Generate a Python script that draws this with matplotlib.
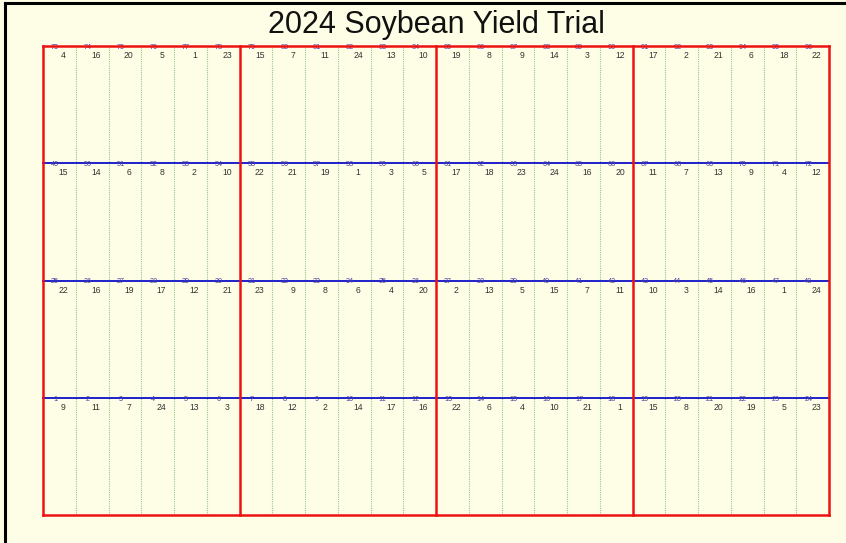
import matplotlib
matplotlib.use("Agg")
import matplotlib.pyplot as plt
from matplotlib.lines import Line2D

plt.rcParams["font.family"] = ["Liberation Sans", "DejaVu Sans"]

title = "2024 Soybean Yield Trial"
n_rows = 4
n_blocks = 4
plots_per_block = 6

# plot numbers per row (row 1 at bottom)
plot_numbers = {
    1: list(range(1, 25)),
    2: list(range(25, 49)),
    3: list(range(49, 73)),
    4: list(range(73, 97)),
}
# treatment numbers per row (row 1 at bottom)
treatments = {
    4: [4, 16, 20, 5, 1, 23, 15, 7, 11, 24, 13, 10, 19, 8, 9, 14, 3, 12, 17, 2, 21, 6, 18, 22],
    3: [15, 14, 6, 8, 2, 10, 22, 21, 19, 1, 3, 5, 17, 18, 23, 24, 16, 20, 11, 7, 13, 9, 4, 12],
    2: [22, 16, 19, 17, 12, 21, 23, 9, 8, 6, 4, 20, 2, 13, 5, 15, 7, 11, 10, 3, 14, 16, 1, 24],
    1: [9, 11, 7, 24, 13, 3, 18, 12, 2, 14, 17, 16, 22, 6, 4, 10, 21, 1, 15, 8, 20, 19, 5, 23],
}

W, H = 846, 543
bg = "#FEFEE6"
fig = plt.figure(figsize=(W / 100, H / 100), dpi=100, facecolor=bg)

# figure frame (black, left and top)
fig.add_artist(Line2D([5 / W, 5 / W], [0, 1 - 3 / H], transform=fig.transFigure, color="black", lw=2.2))
fig.add_artist(Line2D([5 / W, 1], [1 - 3 / H, 1 - 3 / H], transform=fig.transFigure, color="black", lw=2.2))

x0, x1, yt, yb = 43, 829, 46, 515
ax = fig.add_axes([x0 / W, 1 - yb / H, (x1 - x0) / W, (yb - yt) / H])
ax.set_facecolor(bg)
ncols = n_blocks * plots_per_block
ax.set_xlim(0, ncols)
ax.set_ylim(0, n_rows)
ax.axis("off")

fig.text((x0 + x1) / 2 / W, 1 - 33 / H, title, ha="center", va="baseline", fontsize=22, color="#111111")

# green dotted plot boundaries
for c in range(1, ncols):
    if c % plots_per_block != 0:
        ax.plot([c, c], [0, n_rows], color="#95C595", lw=0.8, ls=(0, (1, 1)), zorder=1, clip_on=False)

# blue row boundaries
for r in range(1, n_rows):
    ax.plot([0, ncols], [r, r], color="#1F1FCC", lw=1.4, zorder=2, clip_on=False)

# red block boundaries and outline
for b in range(0, n_blocks + 1):
    c = b * plots_per_block
    ax.plot([c, c], [0, n_rows], color="#EE1111", lw=1.8, zorder=3, clip_on=False)
ax.plot([0, ncols], [n_rows, n_rows], color="#EE1111", lw=1.8, zorder=3, clip_on=False)
ax.plot([0, ncols], [0, 0], color="#EE1111", lw=1.8, zorder=3, clip_on=False)

for r in range(1, n_rows + 1):
    ytop = r
    for c in range(ncols):
        ax.text(c + 0.37, ytop - 0.012, str(plot_numbers[r][c]), ha="center", va="center",
                fontsize=5.2, color="#4A3FA0", zorder=2.5)
        ax.text(c + 0.62, ytop - 0.082, str(treatments[r][c]), ha="center", va="center",
                fontsize=6.2, color="#333333", zorder=4)

fig.savefig("out.png", dpi=100, facecolor=bg)
